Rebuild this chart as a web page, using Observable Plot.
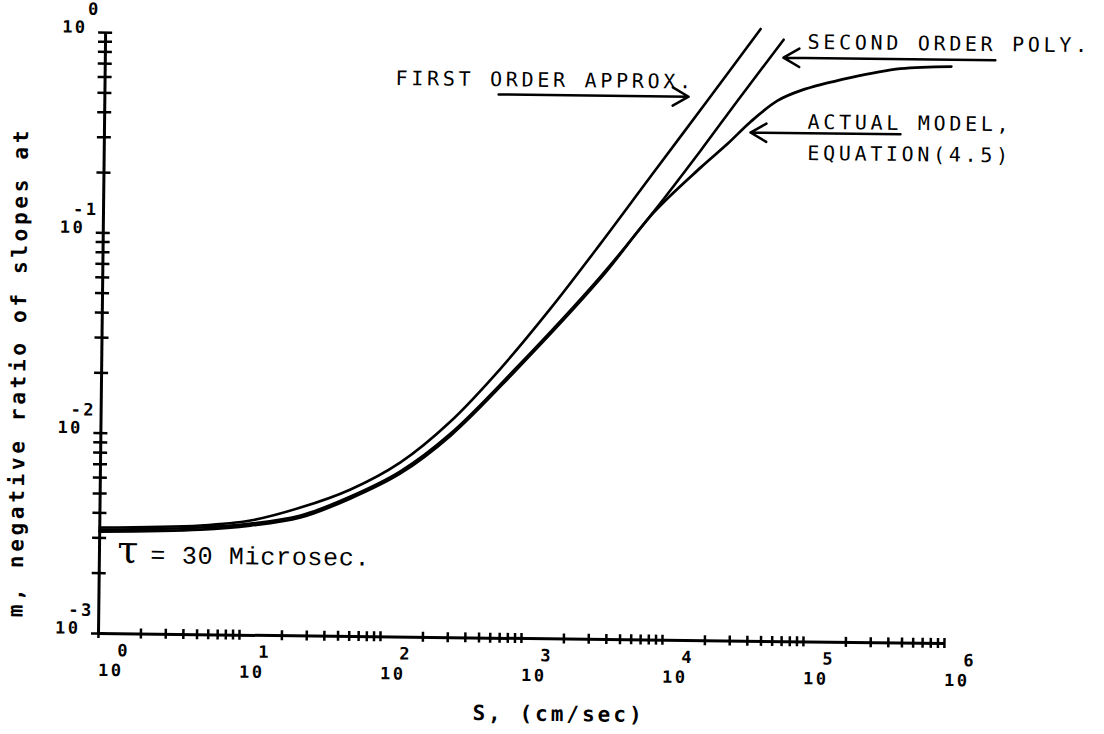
<!DOCTYPE html>
<html>
<head>
<meta charset="utf-8">
<script src="https://cdn.jsdelivr.net/npm/d3@7"></script>
<script src="https://cdn.jsdelivr.net/npm/@observablehq/plot@0.6"></script>
<style>
  html, body { margin: 0; padding: 0; background: #fff; }
  /* the plotted sheet sits slightly skewed on the page */
  #chart svg { display: block; transform-origin: 98px 633px; transform: rotate(0.68deg); }
  .tick-label text { letter-spacing: 2.5px; }
  .note text { letter-spacing: 3.7px; }
  .axis-title text { letter-spacing: 3px; }
  .axis-title-y text { letter-spacing: 3.7px; }
  .tau-note text { letter-spacing: 0.7px; }
</style>
</head>
<body>
<div id="chart"></div>
<script>
// S (cm/sec) and m for the three relations
const firstOrderS = [1, 5.18, 11.7, 26.4, 59.6, 134, 301, 675, 1510, 3370, 7530, 18800, 44150];
const firstOrderM = [0.00338, 0.00351, 0.00374, 0.00437, 0.00542, 0.00745, 0.0120, 0.0222, 0.0446, 0.0946, 0.206, 0.497, 1.14];

const secondOrderS = [1, 5.18, 11.7, 26.5, 59.7, 134, 302, 834, 3390, 7960, 16940, 30700, 64400];
const secondOrderM = [0.00330, 0.00343, 0.00361, 0.00399, 0.00500, 0.00672, 0.01045, 0.0217, 0.0648, 0.1374, 0.279, 0.498, 1.01];

const actualS = [1, 5.18, 11.7, 26.5, 59.7, 134, 302, 834, 3390, 7960, 17000, 26300, 38200, 59000, 85700, 193500, 436500, 1000000];
const actualM = [0.00323, 0.00335, 0.00353, 0.00390, 0.00489, 0.00656, 0.0102, 0.0212, 0.0634, 0.136, 0.2296, 0.303, 0.392, 0.501, 0.564, 0.659, 0.736, 0.759];

// axis decades and their exponent labels
const xDecades = [1, 10, 100, 1e3, 1e4, 1e5, 1e6];
const xExponents = ["0", "1", "2", "3", "4", "5", "6"];
const yDecades = [1e-3, 1e-2, 1e-1, 1];
const yExponents = ["-3", "-2", "-1", "0"];
const minorSteps = [1, 2, 3, 4, 5, 6, 7, 8, 9];

const series = (S, M) => S.map((s, i) => ({S: s, m: M[i]}));
const xTicks = xDecades.slice(0, -1).flatMap(d => minorSteps.map(k => d * k)).concat([1e6]);
const yTicks = yDecades.slice(0, -1).flatMap(d => minorSteps.map(k => d * k)).concat([1]);

const mono = "DejaVu Sans Mono";
const ink = "#000";

const chart = Plot.plot({
  width: 1104,
  height: 734,
  marginLeft: 98,
  marginRight: 160,
  marginTop: 32,
  marginBottom: 101,
  x: {type: "log", domain: [1, 1e6], axis: null},
  y: {type: "log", domain: [1e-3, 1], axis: null},
  style: {background: "#fff", color: ink},
  marks: [
    // axis lines
    Plot.ruleX([1], {x: d => d, y1: 1e-3, y2: 1, stroke: ink, strokeWidth: 3}),
    Plot.ruleY([1e-3], {y: d => d, x1: 1, x2: 1e6, stroke: ink, strokeWidth: 3}),
    // crossing tick marks
    Plot.ruleX(xTicks, {x: d => d, y1: 1e-3, y2: 1e-3, insetTop: -5, insetBottom: -5, stroke: ink, strokeWidth: 2.5}),
    Plot.ruleY(yTicks, {y: d => d, x1: 1, x2: 1, insetLeft: -7, insetRight: -7, stroke: ink, strokeWidth: 2.5}),

    // curves
    Plot.line(series(firstOrderS, firstOrderM), {x: "S", y: "m", curve: "catmull-rom", stroke: ink, strokeWidth: 2.6}),
    Plot.line(series(secondOrderS, secondOrderM), {x: "S", y: "m", curve: "catmull-rom", stroke: ink, strokeWidth: 2.6}),
    Plot.line(series(actualS, actualM), {x: "S", y: "m", curve: "catmull-rom", stroke: ink, strokeWidth: 2.8}),

    // tick labels: 10 with raised exponent
    Plot.text(xDecades, {x: d => d, y: 1e-3, text: () => "10", textAnchor: "start", dy: 37, fontFamily: mono, fontWeight: "bold", fontSize: 17, fill: ink, className: "tick-label"}),
    Plot.text(xDecades, {x: d => d, y: 1e-3, text: (d, i) => xExponents[i], textAnchor: "start", dx: 19, dy: 17, fontFamily: mono, fontWeight: "bold", fontSize: 17, fill: ink, className: "tick-label"}),
    Plot.text(yDecades, {x: 1, y: d => d, text: () => "10", textAnchor: "end", dx: -18, dy: -5, fontFamily: mono, fontWeight: "bold", fontSize: 17, fill: ink, className: "tick-label"}),
    Plot.text(yDecades, {x: 1, y: d => d, text: (d, i) => yExponents[i], textAnchor: "end", dx: -5, dy: -23, fontFamily: mono, fontWeight: "bold", fontSize: 17, fill: ink, className: "tick-label"}),

    // axis titles
    Plot.text(["m, negative ratio of slopes at"], {frameAnchor: "left", textAnchor: "middle", rotate: -90, dx: -83, dy: 40, text: d => d, fontFamily: mono, fontWeight: "bold", fontSize: 21, fill: ink, className: "axis-title-y"}),
    Plot.text(["S, (cm/sec)"], {frameAnchor: "bottom", textAnchor: "middle", dx: 38, dy: 82, text: d => d, fontFamily: mono, fontWeight: "bold", fontSize: 21, fill: ink, className: "axis-title"}),

    // curve annotations
    Plot.text(["FIRST ORDER APPROX."], {x: 115, y: 0.613, text: d => d, textAnchor: "start", fontFamily: mono, fontSize: 20, fill: ink, className: "note"}),
    Plot.arrow([{x1: 620, x2: 13800, y: 0.518}], {x1: "x1", x2: "x2", y1: "y", y2: "y", stroke: ink, strokeWidth: 2.5, headLength: 11, headAngle: 60}),
    Plot.text(["SECOND ORDER POLY."], {x: 95200, y: 0.982, text: d => d, textAnchor: "start", fontFamily: mono, fontSize: 20, fill: ink, className: "note"}),
    Plot.arrow([{x1: 2.05e6, x2: 64400, y: 0.822}], {x1: "x1", x2: "x2", y1: "y", y2: "y", stroke: ink, strokeWidth: 2.5, headLength: 11, headAngle: 60}),
    Plot.text(["ACTUAL MODEL,"], {x: 96800, y: 0.392, text: d => d, textAnchor: "start", fontFamily: mono, fontSize: 20, fill: ink, className: "note"}),
    Plot.text(["EQUATION(4.5)"], {x: 96800, y: 0.274, text: d => d, textAnchor: "start", fontFamily: mono, fontSize: 20, fill: ink, className: "note"}),
    Plot.arrow([{x1: 441900, x2: 38150, y: 0.346}], {x1: "x1", x2: "x2", y1: "y", y2: "y", stroke: ink, strokeWidth: 2.5, headLength: 11, headAngle: 60}),

    // time constant
    Plot.text(["τ"], {x: 1.34, y: 0.0026, text: d => d, textAnchor: "start", fontFamily: "DejaVu Serif", fontSize: 38, fill: ink}),
    Plot.text(["= 30 Microsec."], {x: 2.30, y: 0.00248, text: d => d, textAnchor: "start", fontFamily: "Liberation Mono", fontSize: 25, fill: ink, className: "tau-note"})
  ]
});

document.getElementById("chart").append(chart);
</script>
</body>
</html>
